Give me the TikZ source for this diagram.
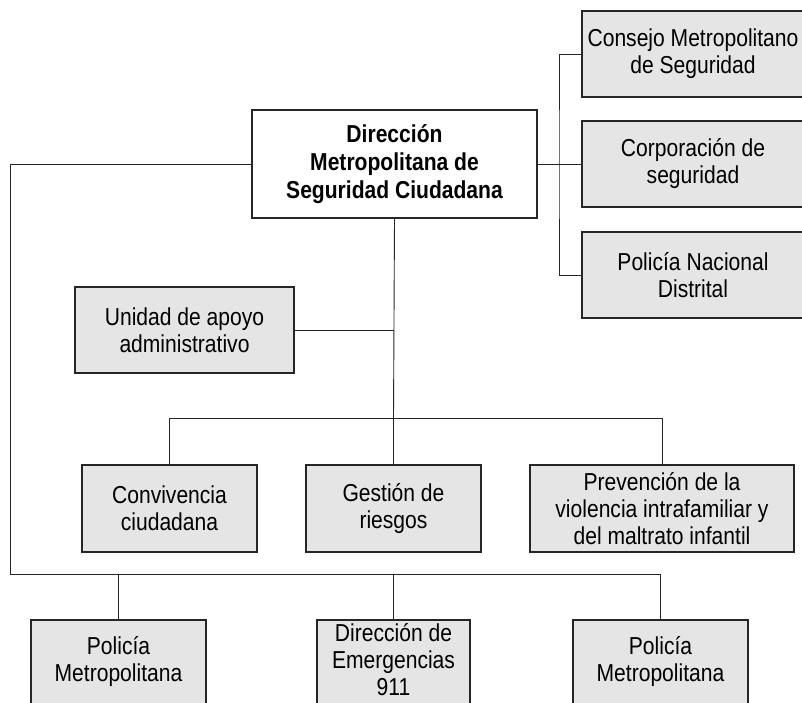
\documentclass[tikz,border=0pt]{standalone}
\usepackage{fontspec}
\setmainfont{Liberation Sans}[FakeStretch=0.86]
\usetikzlibrary{positioning,calc}

\begin{document}
\begin{tikzpicture}[x=1pt,y=-1pt,
    unitbox/.style={draw=black!85, line width=1.1pt, fill=black!10, align=center,
        inner sep=0pt, font=\fontsize{24.5}{27}\selectfont},
    headbox/.style={unitbox, fill=white, font=\bfseries\fontsize{24.5}{28}\selectfont},
    lowbox/.style={unitbox, minimum height=90pt, text depth=12pt},
    link/.style={draw=black!85, line width=0.9pt}]
\useasboundingbox (0,0) rectangle (802,702);
\clip (0,0) rectangle (802,702);
% head
\node[headbox, minimum width=285pt, minimum height=108pt] (direccion) at (394.5,164)
    {Direcci\'on\\Metropolitana de\\Seguridad Ciudadana};
% right column
\node[unitbox, minimum width=222pt, minimum height=86pt] (consejo) at (693,54)
    {Consejo Metropolitano\\de Seguridad};
\node[unitbox, minimum width=222pt, minimum height=86pt] (corporacion) at (693,164)
    {Corporaci\'on de\\seguridad};
\node[unitbox, minimum width=222pt, minimum height=86pt] (policianac) at (693,275)
    {Polic\'ia Nacional\\Distrital};
% staff unit
\node[unitbox, minimum width=219pt, minimum height=86pt] (unidad) at (184.5,330)
    {Unidad de apoyo\\administrativo};
% middle row
\node[unitbox, minimum width=175pt, minimum height=87pt] (convivencia) at (169.5,508.5)
    {Convivencia\\ciudadana};
\node[unitbox, minimum width=175pt, minimum height=87pt] (gestion) at (393.5,508.5)
    {Gesti\'on de\\riesgos};
\node[unitbox, minimum width=264pt, minimum height=87pt] (prevencion) at (662,508.5)
    {Prevenci\'on de la\\violencia intrafamiliar y\\del maltrato infantil};
% bottom row
\node[lowbox, minimum width=175pt] (policiaA) at (118.5,665)
    {Polic\'ia\\Metropolitana};
\node[lowbox, minimum width=153pt] (emergencias) at (393.5,665)
    {Direcci\'on de\\Emergencias\\911};
\node[lowbox, minimum width=175pt] (policiaB) at (660.5,665)
    {Polic\'ia\\Metropolitana};

\coordinate (rbus) at (559,164);
\coordinate (mbus) at (393.5,418);
\coordinate (lbus) at (10,574);

% connectors
\draw[link] (direccion.east) -- (rbus);
\draw[link] (consejo.west) -| (rbus) |- (policianac.west);
\draw[link] (corporacion.west) -- (rbus);
\draw[link] (direccion.south) -- (mbus);
\draw[link] (unidad.east) -- (unidad.east -| mbus);
\draw[link] (convivencia.north) |- (mbus) -| (prevencion.north);
\draw[link] (gestion.north) -- (mbus);
\draw[link] (direccion.west) -| (lbus) -| (policiaB.north);
\foreach \n in {policiaA,emergencias}
    \draw[link] (\n.north) -- (\n.north |- lbus);
\end{tikzpicture}
\end{document}
